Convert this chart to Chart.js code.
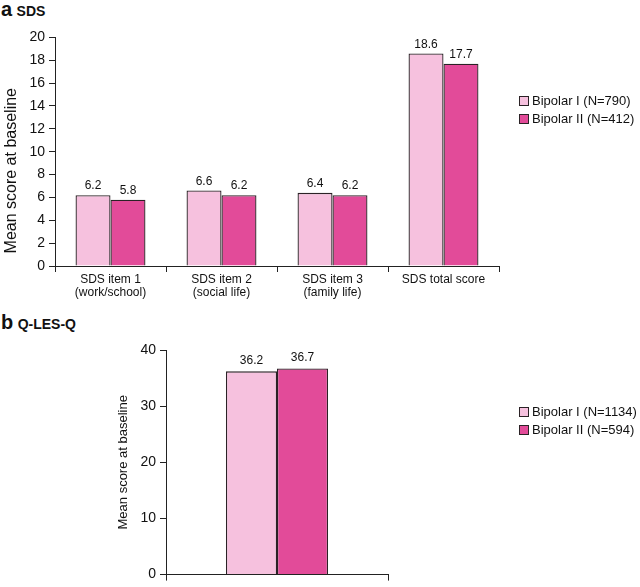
<!DOCTYPE html>
<html>
<head>
<meta charset="utf-8">
<script src="https://cdn.jsdelivr.net/npm/chart.js@4"></script>
<style>
  body { margin: 0; background: #fff; font-family: 'Liberation Sans', Arial, sans-serif; color: #111; }
  #wrap { position: relative; width: 640px; height: 587px; overflow: hidden; }
  canvas { position: absolute; left: 0; }
  .title { position: absolute; left: 1px; font-weight: bold; white-space: nowrap; }
  .title .letter { font-size: 20px; }
  .title .name { font-size: 14px; }
  .legend { position: absolute; left: 519px; font-size: 13px; line-height: 18px; }
  .legend div { white-space: nowrap; }
  .legend .box { display: inline-block; width: 8px; height: 8px; border: 1px solid #2b2226; margin-right: 3px; vertical-align: -1px; }
</style>
</head>
<body>
<div id="wrap">
  <div class="title" style="top:-2px"><span class="letter">a</span> <span class="name">SDS</span></div>
  <canvas id="sdsChart" width="640" height="285" style="top:25px"></canvas>
  <div class="legend" id="sdsLegend" style="top:92px"></div>

  <div class="title" style="top:311px"><span class="letter">b</span> <span class="name">Q-LES-Q</span></div>
  <canvas id="qlesChart" width="640" height="277" style="top:310px"></canvas>
  <div class="legend" id="qlesLegend" style="top:403px"></div>
</div>
<script>
// panel a - SDS
const sdsLabels = [['SDS item 1', '(work/school)'], ['SDS item 2', '(social life)'], ['SDS item 3', '(family life)'], 'SDS total score'];
const sdsBipolarI = [6.2, 6.6, 6.4, 18.6];
const sdsBipolarII = [5.8, 6.2, 6.2, 17.7];
const sdsSeriesNames = ['Bipolar I (N=790)', 'Bipolar II (N=412)'];
const sdsTicks = [0, 2, 4, 6, 8, 10, 12, 14, 16, 18, 20];

// panel b - Q-LES-Q
const qlesLabels = [''];
const qlesBipolarI = [36.2];
const qlesBipolarII = [36.7];
const qlesSeriesNames = ['Bipolar I (N=1134)', 'Bipolar II (N=594)'];
const qlesTicks = [0, 10, 20, 30, 40];

const yTitle = 'Mean score at baseline';
const lightPink = '#f6c1de';
const magenta = '#e24b99';
const outline = '#2b2226';
const axisColor = '#222';
const fontFamily = "'Liberation Sans', Arial, sans-serif";

Chart.defaults.font.family = fontFamily;
Chart.defaults.color = '#111';

// numbers above bars + rotated y title
const extras = {
    id: 'extras',
    afterDatasetsDraw(chart, args, opts) {
        const ctx = chart.ctx;
        const area = chart.chartArea;
        ctx.save();
        ctx.font = '12px ' + fontFamily;
        ctx.fillStyle = '#111';
        ctx.textAlign = 'center';
        ctx.textBaseline = 'middle';
        chart.data.datasets.forEach((ds, i) => {
            chart.getDatasetMeta(i).data.forEach((bar, j) => {
                ctx.fillText(ds.data[j].toFixed(1), bar.x, bar.y - opts.offset);
            });
        });
        ctx.translate(opts.titleX, (area.top + area.bottom) / 2 + opts.titleShift);
        ctx.rotate(-Math.PI / 2);
        ctx.font = opts.titleSize + 'px ' + fontFamily;
        ctx.fillText(yTitle, 0, 0);
        ctx.restore();
    }
};

function makeLegend(id, names) {
    const el = document.getElementById(id);
    const colors = [lightPink, magenta];
    names.forEach((name, i) => {
        const row = document.createElement('div');
        row.innerHTML = '<span class="box" style="background:' + colors[i] + '"></span>' + name;
        el.appendChild(row);
    });
}

function makeChart(canvasId, labels, seriesA, seriesB, names, ticks, opt) {
    const yMax = ticks[ticks.length - 1];
    return new Chart(document.getElementById(canvasId), {
        type: 'bar',
        data: {
            labels: labels,
            datasets: [
                { label: names[0], data: seriesA, backgroundColor: lightPink, borderColor: outline, borderWidth: 1.3 },
                { label: names[1], data: seriesB, backgroundColor: magenta, borderColor: outline, borderWidth: 1.3 }
            ]
        },
        options: {
            responsive: false,
            animation: false,
            devicePixelRatio: 1,
            datasets: { bar: { categoryPercentage: opt.catPct, barPercentage: 1 } },
            layout: { padding: { left: opt.left, right: opt.right, top: opt.top, bottom: 0 } },
            plugins: {
                legend: { display: false },
                tooltip: { enabled: false },
                extras: { offset: opt.labelOffset, titleX: opt.left + 12, titleShift: opt.titleShift, titleSize: opt.titleSize }
            },
            scales: {
                x: {
                    grid: { offset: true, drawOnChartArea: false, drawTicks: true, tickLength: 6, color: axisColor },
                    border: { display: true, color: axisColor, width: 1 },
                    ticks: { padding: 1, font: { size: 12, lineHeight: 1.1 }, color: '#111', maxRotation: 0, autoSkip: false },
                    afterFit(scale) { scale.height = opt.xHeight; }
                },
                y: {
                    min: 0,
                    max: yMax,
                    afterBuildTicks(scale) { scale.ticks = ticks.map(v => ({ value: v })); },
                    grid: { drawOnChartArea: false, drawTicks: true, tickLength: 6, color: axisColor },
                    border: { display: true, color: axisColor, width: 1 },
                    ticks: { padding: 4, font: { size: 14 }, color: '#111' },
                    afterFit(scale) { scale.width = 55; }
                }
            }
        },
        plugins: [extras]
    });
}

makeChart('sdsChart', sdsLabels, sdsBipolarI, sdsBipolarII, sdsSeriesNames, sdsTicks,
    { catPct: 0.63, left: 0, right: 141, top: 10, xHeight: 44, labelOffset: 9, titleShift: 19, titleSize: 16 });
makeChart('qlesChart', qlesLabels, qlesBipolarI, qlesBipolarII, qlesSeriesNames, qlesTicks,
    { catPct: 0.46, left: 111, right: 252, top: 40, xHeight: 6, labelOffset: 11, titleShift: 0, titleSize: 13 });

makeLegend('sdsLegend', sdsSeriesNames);
makeLegend('qlesLegend', qlesSeriesNames);
</script>
</body>
</html>
